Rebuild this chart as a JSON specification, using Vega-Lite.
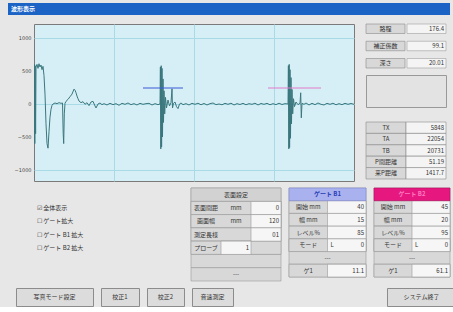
{
"$schema": "https://vega.github.io/schema/vega-lite/v6.json",
"background": "#e7e7e7",
"padding": {"left": 8, "top": 3, "right": 0, "bottom": 0},
"config": {"view": {"stroke": null}, "text": {"font": "Noto Sans CJK JP", "fontSize": 6, "color": "#333333"}},
"datasets": {
"wave": [
{"t":0,"v":-550},{"t":0.4,"v":600},{"t":0.8,"v":-600},{"t":1.2,"v":580},{"t":1.6,"v":-450},{"t":2,"v":560},{"t":3,"v":600},{"t":4,"v":540},{"t":5,"v":610},{"t":6,"v":560},{"t":7,"v":590},{"t":8,"v":520},{"t":9,"v":570},{"t":10,"v":430},{"t":11,"v":150},{"t":12,"v":-300},{"t":13,"v":-600},{"t":14,"v":-670},{"t":15,"v":-420},{"t":16,"v":-200},{"t":17,"v":-80},{"t":18,"v":-20},{"t":19,"v":0},{"t":21,"v":15},{"t":23,"v":5},{"t":25,"v":20},{"t":27,"v":10},{"t":28.5,"v":15},{"t":29.2,"v":-450},{"t":29.7,"v":-600},{"t":30.3,"v":-150},{"t":31,"v":10},{"t":32,"v":40},{"t":34,"v":70},{"t":36,"v":110},{"t":38,"v":150},{"t":40,"v":225},{"t":41,"v":210},{"t":42,"v":170},{"t":43,"v":120},{"t":44,"v":80},{"t":45,"v":45},{"t":47,"v":20},{"t":49,"v":35},{"t":51,"v":-5},{"t":53,"v":20},{"t":55,"v":-25},{"t":57,"v":30},{"t":59,"v":40},{"t":61,"v":-30},{"t":62,"v":-60},{"t":64,"v":0},{"t":66,"v":15},{"t":68,"v":-10},{"t":70,"v":5},{"t":73,"v":-15},{"t":76,"v":10},{"t":79,"v":-10},{"t":82,"v":5},{"t":85,"v":-20},{"t":88,"v":10},{"t":91,"v":-5},{"t":94,"v":15},{"t":97,"v":-10},{"t":100,"v":5},{"t":103,"v":-15},{"t":106,"v":10},{"t":109,"v":-5},{"t":112,"v":5},{"t":115,"v":10},{"t":118,"v":-15},{"t":121,"v":5},{"t":124,"v":-10},{"t":126,"v":0},{"t":126.4,"v":560},{"t":126.8,"v":-680},{"t":127.2,"v":580},{"t":127.6,"v":-650},{"t":128,"v":540},{"t":128.5,"v":-500},{"t":129,"v":380},{"t":129.5,"v":-280},{"t":130,"v":200},{"t":130.7,"v":-150},{"t":131.5,"v":100},{"t":132.5,"v":-60},{"t":134,"v":60},{"t":135.5,"v":-30},{"t":137,"v":20},{"t":138,"v":230},{"t":138.5,"v":-60},{"t":139.5,"v":10},{"t":141,"v":30},{"t":142.5,"v":-40},{"t":144,"v":-70},{"t":145.5,"v":0},{"t":147,"v":15},{"t":149,"v":-10},{"t":152,"v":5},{"t":155,"v":-15},{"t":158,"v":10},{"t":161,"v":-5},{"t":164,"v":12},{"t":167,"v":-12},{"t":170,"v":8},{"t":173,"v":-15},{"t":176,"v":5},{"t":179,"v":15},{"t":182,"v":-10},{"t":185,"v":0},{"t":188,"v":-12},{"t":191,"v":10},{"t":194,"v":-5},{"t":197,"v":12},{"t":200,"v":-15},{"t":203,"v":5},{"t":206,"v":-8},{"t":209,"v":10},{"t":212,"v":-12},{"t":215,"v":5},{"t":218,"v":-5},{"t":221,"v":12},{"t":224,"v":-15},{"t":227,"v":8},{"t":230,"v":-5},{"t":233,"v":10},{"t":236,"v":-12},{"t":239,"v":5},{"t":242,"v":-10},{"t":245,"v":12},{"t":248,"v":-8},{"t":251,"v":5},{"t":254,"v":0},{"t":254.4,"v":580},{"t":254.8,"v":-680},{"t":255.2,"v":600},{"t":255.6,"v":-660},{"t":256,"v":520},{"t":256.5,"v":-520},{"t":257,"v":400},{"t":257.5,"v":-300},{"t":258,"v":220},{"t":258.7,"v":-150},{"t":259.5,"v":80},{"t":260.5,"v":-40},{"t":262,"v":30},{"t":264,"v":-10},{"t":266,"v":10},{"t":266.7,"v":170},{"t":267.3,"v":-210},{"t":268,"v":10},{"t":270,"v":-5},{"t":272,"v":15},{"t":275,"v":-15},{"t":278,"v":10},{"t":281,"v":-10},{"t":284,"v":15},{"t":287,"v":-5},{"t":290,"v":-15},{"t":293,"v":10},{"t":296,"v":-5},{"t":299,"v":12},{"t":302,"v":-12},{"t":305,"v":5},{"t":308,"v":-10},{"t":311,"v":10},{"t":314,"v":-5},{"t":317,"v":8},{"t":320,"v":-5}
],
"gates": [
{"gate":"B1","start":109,"end":149,"level":242},
{"gate":"B2","start":234,"end":287,"level":242}
],
"cells": [
{"tbl":"A","r":0,"c":"a","role":"label","text":"路程"},{"tbl":"A","r":0,"c":"b","role":"value","text":"176.4"},
{"tbl":"A","r":1,"c":"a","role":"label","text":"補正係数"},{"tbl":"A","r":1,"c":"b","role":"value","text":"99.1"},
{"tbl":"A","r":2,"c":"a","role":"label","text":"深さ"},{"tbl":"A","r":2,"c":"b","role":"value","text":"20.01"},
{"tbl":"B","r":0,"c":"a","role":"label","text":"TX"},{"tbl":"B","r":0,"c":"b","role":"value","text":"5848"},
{"tbl":"B","r":1,"c":"a","role":"label","text":"TA"},{"tbl":"B","r":1,"c":"b","role":"value","text":"22054"},
{"tbl":"B","r":2,"c":"a","role":"label","text":"TB"},{"tbl":"B","r":2,"c":"b","role":"value","text":"20731"},
{"tbl":"B","r":3,"c":"a","role":"label","text":"P間距離"},{"tbl":"B","r":3,"c":"b","role":"value","text":"51.19"},
{"tbl":"B","r":4,"c":"a","role":"label","text":"来P距離"},{"tbl":"B","r":4,"c":"b","role":"value","text":"1417.7"},
{"tbl":"T1","r":0,"c":"a","role":"head","text":"表面設定"},
{"tbl":"T1","r":1,"c":"a","role":"label","text":"表面間距"},{"tbl":"T1","r":1,"c":"b","role":"label","text":"mm"},{"tbl":"T1","r":1,"c":"c","role":"value","text":"0"},
{"tbl":"T1","r":2,"c":"a","role":"label","text":"画面幅"},{"tbl":"T1","r":2,"c":"b","role":"label","text":"mm"},{"tbl":"T1","r":2,"c":"c","role":"value","text":"120"},
{"tbl":"T1","r":3,"c":"a","role":"label","text":"測定長様"},{"tbl":"T1","r":3,"c":"c","role":"value","text":"01"},
{"tbl":"T1","r":4,"c":"a","role":"label","text":"プローブ"},{"tbl":"T1","r":4,"c":"b","role":"value","text":"1"},
{"tbl":"T1","r":5,"c":"a","role":"full","text":""},
{"tbl":"T1","r":6,"c":"a","role":"full","text":"---"},
{"tbl":"B1","r":0,"c":"a","role":"head","text":"ゲート B1"},
{"tbl":"B1","r":1,"c":"a","role":"label","text":"開始  mm"},{"tbl":"B1","r":1,"c":"b","role":"value","text":"40"},
{"tbl":"B1","r":2,"c":"a","role":"label","text":"幅    mm"},{"tbl":"B1","r":2,"c":"b","role":"value","text":"15"},
{"tbl":"B1","r":3,"c":"a","role":"label","text":"レベル%"},{"tbl":"B1","r":3,"c":"b","role":"value","text":"85"},
{"tbl":"B1","r":4,"c":"a","role":"label","text":"モード"},{"tbl":"B1","r":4,"c":"b","role":"value","text":"0"},{"tbl":"B1","r":4,"c":"b","role":"mark","text":"L"},
{"tbl":"B1","r":5,"c":"a","role":"full","text":"---"},
{"tbl":"B1","r":6,"c":"a","role":"label","text":"ゲ1"},{"tbl":"B1","r":6,"c":"b","role":"value","text":"11.1"},
{"tbl":"B2","r":0,"c":"a","role":"head","text":"ゲート B2"},
{"tbl":"B2","r":1,"c":"a","role":"label","text":"開始  mm"},{"tbl":"B2","r":1,"c":"b","role":"value","text":"45"},
{"tbl":"B2","r":2,"c":"a","role":"label","text":"幅    mm"},{"tbl":"B2","r":2,"c":"b","role":"value","text":"20"},
{"tbl":"B2","r":3,"c":"a","role":"label","text":"レベル%"},{"tbl":"B2","r":3,"c":"b","role":"value","text":"95"},
{"tbl":"B2","r":4,"c":"a","role":"label","text":"モード"},{"tbl":"B2","r":4,"c":"b","role":"value","text":"0"},{"tbl":"B2","r":4,"c":"b","role":"mark","text":"L"},
{"tbl":"B2","r":5,"c":"a","role":"full","text":"---"},
{"tbl":"B2","r":6,"c":"a","role":"label","text":"ゲ1"},{"tbl":"B2","r":6,"c":"b","role":"value","text":"61.1"},
{"tbl":"CHK","r":1,"c":"a","role":"left","text":"☑ 全体表示"},
{"tbl":"CHK","r":2,"c":"a","role":"left","text":"☐ ゲート拡大"},
{"tbl":"CHK","r":3,"c":"a","role":"left","text":"☐ ゲート B1 拡大"},
{"tbl":"CHK","r":4,"c":"a","role":"left","text":"☐ ゲート B2 拡大"}
],
"buttons": [
{"id":1,"label":"写真モード設定"},{"id":2,"label":"校正1"},{"id":3,"label":"校正2"},{"id":4,"label":"音速測定"},{"id":5,"label":"システム終了"}
]
},
"spacing": 8,
"vconcat": [
{"width": 442, "height": 12, "view": {"fill": "#1c63c6"},
 "data": {"values": [{"c": "t", "text": "波形表示"}]},
 "mark": {"type": "text", "align": "left", "dx": 3, "color": "#ffffff", "fontWeight": "bold", "fontSize": 6},
 "encoding": {"x": {"field": "c", "type": "nominal", "axis": null, "bandPosition": 0, "scale": {"type": "band", "paddingInner": 0, "paddingOuter": 0}}, "text": {"field": "text"}}},
{"spacing": 5, "vconcat": [
 {"spacing": 10, "hconcat": [
  {"spacing": 0, "hconcat": [
   {"width": 1, "height": 157, "data": {"values": [{"v": 0}]},
    "mark": {"type": "text", "text": ""},
    "encoding": {"y": {"field": "v", "type": "quantitative", "scale": {"domain": [-1167, 1212], "nice": false, "zero": false},
      "axis": {"orient": "right", "values": [-1000, -500, 0, 500, 1000], "format": "d", "labelOverlap": false, "labelAlign": "right", "labelPadding": 22, "labelFontSize": 5, "labelColor": "#444444", "labelFont": "DejaVu Sans", "ticks": false, "domain": false, "grid": false, "title": null, "minExtent": 24, "maxExtent": 24}}}},
   {"width": 320, "height": 157, "view": {"fill": "#d6eff6", "stroke": "#7a7a7a"},
    "layer": [
     {"data": {"name": "wave"}, "mark": {"type": "line", "color": "#3a777d", "strokeWidth": 1, "clip": true},
      "encoding": {
       "x": {"field": "t", "type": "quantitative", "scale": {"domain": [0, 320], "nice": false, "zero": false}, "axis": {"values": [80, 160, 240], "labels": false, "ticks": false, "domain": false, "grid": true, "gridColor": "#a9dbe6", "title": null, "minExtent": 0, "maxExtent": 0}},
       "y": {"field": "v", "type": "quantitative", "scale": {"domain": [-1167, 1212], "nice": false, "zero": false}, "axis": {"values": [-1000, -500, 0, 500, 1000], "labels": false, "ticks": false, "domain": false, "grid": true, "gridColor": "#a9dbe6", "title": null, "minExtent": 0, "maxExtent": 0}}}},
     {"data": {"name": "gates"}, "mark": {"type": "rule", "strokeWidth": 1.2},
      "encoding": {
       "x": {"field": "start", "type": "quantitative"},
       "x2": {"field": "end"},
       "y": {"field": "level", "type": "quantitative"},
       "color": {"field": "gate", "type": "nominal", "scale": {"domain": ["B1", "B2"], "range": ["#3a5ad8", "#e07ac8"]}, "legend": null}}}
    ]}
  ]},
  {"spacing": 13, "vconcat": [
   {"spacing": 5, "vconcat": [
    {"width": 80, "height": 44, "data": {"name": "cells"}, "transform": [{"filter": "datum.tbl == 'A'"}],
     "encoding": {"y": {"field": "r", "type": "ordinal", "axis": null, "scale": {"paddingInner": 0.45, "paddingOuter": 0}}},
     "layer": [
      {"transform": [{"filter": "datum.role == 'label'"}], "mark": {"type": "rect", "fill": "#d8d8d8", "stroke": "#8a8a8a", "strokeWidth": 0.6}, "encoding": {"x": {"field": "c", "type": "nominal", "axis": null, "scale": {"domain": ["a", "b"], "paddingInner": 0.05, "paddingOuter": 0}}}},
      {"transform": [{"filter": "datum.role == 'value'"}], "mark": {"type": "rect", "fill": "#f4f4f4", "stroke": "#a0a0a0", "strokeWidth": 0.6}, "encoding": {"x": {"field": "c", "type": "nominal", "axis": null, "scale": {"domain": ["a", "b"], "paddingInner": 0.05, "paddingOuter": 0}}}},
      {"transform": [{"filter": "datum.role == 'label'"}], "mark": {"type": "text"}, "encoding": {"x": {"field": "c", "type": "nominal", "axis": null}, "text": {"field": "text"}}},
      {"transform": [{"filter": "datum.role == 'value'"}], "mark": {"type": "text", "align": "right", "dx": -2}, "encoding": {"x": {"field": "c", "type": "nominal", "axis": null, "bandPosition": 1}, "text": {"field": "text"}}}
     ]},
    {"width": 80, "height": 32, "view": {"fill": "#e3e3e3", "stroke": "#999999"}, "data": {"values": [{}]}, "mark": "text", "encoding": {"text": {"value": ""}}}
   ]},
   {"width": 80, "height": 57, "data": {"name": "cells"}, "transform": [{"filter": "datum.tbl == 'B'"}],
    "encoding": {"y": {"field": "r", "type": "ordinal", "axis": null, "scale": {"paddingInner": 0, "paddingOuter": 0}}},
    "layer": [
     {"transform": [{"filter": "datum.role == 'label'"}], "mark": {"type": "rect", "fill": "#d8d8d8", "stroke": "#8a8a8a", "strokeWidth": 0.6}, "encoding": {"x": {"field": "c", "type": "nominal", "axis": null, "scale": {"domain": ["a", "b"], "paddingInner": 0, "paddingOuter": 0}}}},
     {"transform": [{"filter": "datum.role == 'value'"}], "mark": {"type": "rect", "fill": "#f4f4f4", "stroke": "#8a8a8a", "strokeWidth": 0.6}, "encoding": {"x": {"field": "c", "type": "nominal", "axis": null, "scale": {"domain": ["a", "b"], "paddingInner": 0, "paddingOuter": 0}}}},
     {"transform": [{"filter": "datum.role == 'label'"}], "mark": {"type": "text"}, "encoding": {"x": {"field": "c", "type": "nominal", "axis": null}, "text": {"field": "text"}}},
     {"transform": [{"filter": "datum.role == 'value'"}], "mark": {"type": "text", "align": "right", "dx": -2}, "encoding": {"x": {"field": "c", "type": "nominal", "axis": null, "bandPosition": 1}, "text": {"field": "text"}}}
    ]}
  ]}
 ]},
 {"spacing": 6, "hconcat": [
  {"width": 23, "height": 93, "data": {"values": [{}]}, "mark": "text", "encoding": {"text": {"value": ""}}},
  {"width": 147, "height": 93, "data": {"name": "cells"}, "transform": [{"filter": "datum.tbl == 'CHK'"}],
   "mark": {"type": "text", "align": "left", "fontSize": 6},
   "encoding": {
    "x": {"field": "c", "type": "nominal", "axis": null, "bandPosition": 0, "scale": {"type": "band", "paddingInner": 0, "paddingOuter": 0}},
    "y": {"field": "r", "type": "ordinal", "axis": null, "scale": {"type": "band", "domain": [0, 1, 2, 3, 4, 5, 6], "paddingInner": 0, "paddingOuter": 0}},
    "text": {"field": "text"}}},
  {"width": 90, "height": 93, "data": {"name": "cells"}, "transform": [{"filter": "datum.tbl == 'T1'"}],
   "encoding": {"y": {"field": "r", "type": "ordinal", "axis": null, "scale": {"paddingInner": 0, "paddingOuter": 0}}},
   "layer": [
    {"mark": {"type": "rect", "fill": "#d8d8d8", "stroke": "#9a9a9a", "strokeWidth": 0.6}},
    {"transform": [{"filter": "datum.role == 'value'"}], "mark": {"type": "rect", "fill": "#f6f6f6", "stroke": "#9a9a9a", "strokeWidth": 0.6}, "encoding": {"x": {"field": "c", "type": "nominal", "axis": null, "scale": {"domain": ["a", "b", "c"], "paddingInner": 0, "paddingOuter": 0}}}},
    {"transform": [{"filter": "datum.role == 'head'"}], "mark": {"type": "rect", "fill": "#d2d2d2", "stroke": "#9a9a9a", "strokeWidth": 0.6}},
    {"transform": [{"filter": "datum.role == 'label'"}], "mark": {"type": "text"}, "encoding": {"x": {"field": "c", "type": "nominal", "axis": null}, "text": {"field": "text"}}},
    {"transform": [{"filter": "datum.role == 'value'"}], "mark": {"type": "text", "align": "right", "dx": -2}, "encoding": {"x": {"field": "c", "type": "nominal", "axis": null, "bandPosition": 1}, "text": {"field": "text"}}},
    {"transform": [{"filter": "datum.role == 'head' || datum.role == 'full'"}], "mark": {"type": "text"}, "encoding": {"text": {"field": "text"}}}
   ]},
  {"width": 77, "height": 89, "data": {"name": "cells"}, "transform": [{"filter": "datum.tbl == 'B1'"}],
   "encoding": {"y": {"field": "r", "type": "ordinal", "axis": null, "scale": {"paddingInner": 0, "paddingOuter": 0}}},
   "layer": [
    {"mark": {"type": "rect", "fill": "#d8d8d8", "stroke": "#9a9a9a", "strokeWidth": 0.6}},
    {"transform": [{"filter": "datum.role == 'value'"}], "mark": {"type": "rect", "fill": "#f6f6f6", "stroke": "#9a9a9a", "strokeWidth": 0.6}, "encoding": {"x": {"field": "c", "type": "nominal", "axis": null, "scale": {"domain": ["a", "b"], "paddingInner": 0, "paddingOuter": 0}}}},
    {"transform": [{"filter": "datum.role == 'head'"}], "mark": {"type": "rect", "fill": "#a9b1ee", "stroke": "#7d86cc", "strokeWidth": 0.6}},
    {"transform": [{"filter": "datum.role == 'label'"}], "mark": {"type": "text"}, "encoding": {"x": {"field": "c", "type": "nominal", "axis": null}, "text": {"field": "text"}}},
    {"transform": [{"filter": "datum.role == 'value'"}], "mark": {"type": "text", "align": "right", "dx": -2}, "encoding": {"x": {"field": "c", "type": "nominal", "axis": null, "bandPosition": 1}, "text": {"field": "text"}}},
    {"transform": [{"filter": "datum.role == 'mark'"}], "mark": {"type": "text", "align": "left", "dx": 3}, "encoding": {"x": {"field": "c", "type": "nominal", "axis": null, "bandPosition": 0}, "text": {"field": "text"}}},
    {"transform": [{"filter": "datum.role == 'head'"}], "mark": {"type": "text", "color": "#2a3fb5", "fontWeight": "bold"}, "encoding": {"text": {"field": "text"}}},
    {"transform": [{"filter": "datum.role == 'full'"}], "mark": {"type": "text"}, "encoding": {"text": {"field": "text"}}}
   ]},
  {"width": 76, "height": 89, "data": {"name": "cells"}, "transform": [{"filter": "datum.tbl == 'B2'"}],
   "encoding": {"y": {"field": "r", "type": "ordinal", "axis": null, "scale": {"paddingInner": 0, "paddingOuter": 0}}},
   "layer": [
    {"mark": {"type": "rect", "fill": "#d8d8d8", "stroke": "#9a9a9a", "strokeWidth": 0.6}},
    {"transform": [{"filter": "datum.role == 'value'"}], "mark": {"type": "rect", "fill": "#f6f6f6", "stroke": "#9a9a9a", "strokeWidth": 0.6}, "encoding": {"x": {"field": "c", "type": "nominal", "axis": null, "scale": {"domain": ["a", "b"], "paddingInner": 0, "paddingOuter": 0}}}},
    {"transform": [{"filter": "datum.role == 'head'"}], "mark": {"type": "rect", "fill": "#e6177f", "stroke": "#b01060", "strokeWidth": 0.6}},
    {"transform": [{"filter": "datum.role == 'label'"}], "mark": {"type": "text"}, "encoding": {"x": {"field": "c", "type": "nominal", "axis": null}, "text": {"field": "text"}}},
    {"transform": [{"filter": "datum.role == 'value'"}], "mark": {"type": "text", "align": "right", "dx": -2}, "encoding": {"x": {"field": "c", "type": "nominal", "axis": null, "bandPosition": 1}, "text": {"field": "text"}}},
    {"transform": [{"filter": "datum.role == 'mark'"}], "mark": {"type": "text", "align": "left", "dx": 3}, "encoding": {"x": {"field": "c", "type": "nominal", "axis": null, "bandPosition": 0}, "text": {"field": "text"}}},
    {"transform": [{"filter": "datum.role == 'head'"}], "mark": {"type": "text", "color": "#ff7ac0", "fontWeight": "bold"}, "encoding": {"text": {"field": "text"}}},
    {"transform": [{"filter": "datum.role == 'full'"}], "mark": {"type": "text"}, "encoding": {"text": {"field": "text"}}}
   ]}
 ]},
 {"spacing": 152, "hconcat": [
  {"spacing": 6, "hconcat": [
   {"width": 1, "height": 18, "data": {"values": [{}]}, "mark": "text", "encoding": {"text": {"value": ""}}},
   {"width": 77, "height": 18, "view": {"fill": "#dcdcdc", "stroke": "#8c8c8c"}, "data": {"name": "buttons"}, "transform": [{"filter": "datum.id == 1"}], "mark": {"type": "text"}, "encoding": {"text": {"field": "label"}}},
   {"width": 38, "height": 18, "view": {"fill": "#dcdcdc", "stroke": "#8c8c8c"}, "data": {"name": "buttons"}, "transform": [{"filter": "datum.id == 2"}], "mark": {"type": "text"}, "encoding": {"text": {"field": "label"}}},
   {"width": 37, "height": 18, "view": {"fill": "#dcdcdc", "stroke": "#8c8c8c"}, "data": {"name": "buttons"}, "transform": [{"filter": "datum.id == 3"}], "mark": {"type": "text"}, "encoding": {"text": {"field": "label"}}},
   {"width": 41, "height": 18, "view": {"fill": "#dcdcdc", "stroke": "#8c8c8c"}, "data": {"name": "buttons"}, "transform": [{"filter": "datum.id == 4"}], "mark": {"type": "text"}, "encoding": {"text": {"field": "label"}}}
  ]},
  {"width": 69, "height": 18, "view": {"fill": "#dcdcdc", "stroke": "#8c8c8c"}, "data": {"name": "buttons"}, "transform": [{"filter": "datum.id == 5"}], "mark": {"type": "text"}, "encoding": {"text": {"field": "label"}}}
 ]}
]}
]
}
